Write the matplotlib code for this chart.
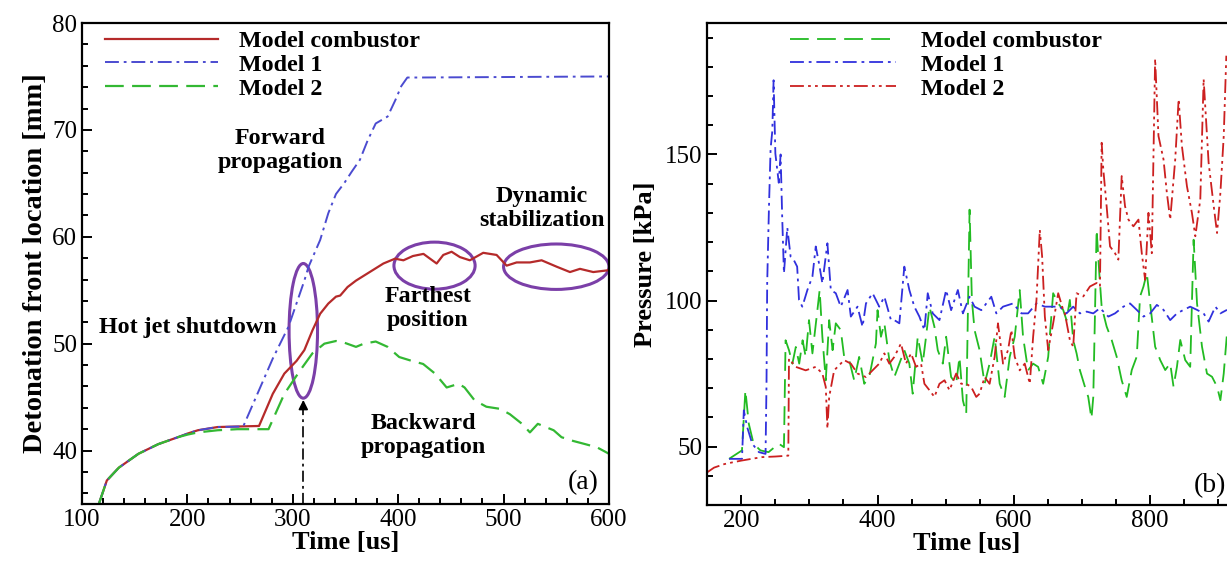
import matplotlib

matplotlib.use("Agg")
import matplotlib.pyplot as plt
from matplotlib.patches import Ellipse
from matplotlib.ticker import MultipleLocator

plt.rcParams["font.family"] = ["Liberation Serif", "DejaVu Serif"]
plt.rcParams["lines.scale_dashes"] = False

# ---------------- panel (a): detonation front location ----------------
t_comb = [116, 123.6, 135, 153.6, 172.4, 191, 200.5, 210, 228.7, 247.4,
          268, 281, 292, 303.7, 311, 318.7, 326, 333.7, 341, 345,
          352, 360, 373, 386, 397, 405, 414, 424, 436.5, 442.8,
          450.7, 458.6, 468, 480.7, 493.4, 502.9, 512.4, 525, 536.1, 550.4,
          563, 572.5, 585.1, 597.8, 600]
x_comb = [35, 37.2, 38.4, 39.7, 40.6, 41.25, 41.6, 41.9, 42.2, 42.25,
          42.3, 45.3, 47.2, 48.4, 49.4, 51.25, 52.8, 53.75, 54.4, 54.5,
          55.3, 55.9, 56.7, 57.5, 57.95, 57.8, 58.2, 58.4, 57.5, 58.3,
          58.6, 58.1, 57.8, 58.5, 58.3, 57.3, 57.6, 57.6, 57.8, 57.2,
          56.7, 57.0, 56.7, 56.85, 56.9]

t_m1 = [116, 123.6, 135, 153.6, 172.4, 191, 200.5, 210, 228.7, 253,
        266, 281, 296, 311, 315, 326, 333.7, 341, 348.7, 356,
        363.7, 371, 378.7, 390, 397.4, 403, 408.7, 420, 600]
x_m1 = [35, 37.2, 38.4, 39.7, 40.6, 41.25, 41.6, 41.9, 42.2, 42.25,
        45.2, 48.6, 51.6, 55.9, 57.2, 59.7, 62.2, 64, 65, 66.1,
        67.2, 69, 70.6, 71.25, 72.8, 74.1, 74.9, 74.9, 75.0]

t_m2 = [116, 123.6, 135, 153.6, 172.4, 191, 200.5, 210, 228.7, 247.4,
        277, 292, 307, 318.7, 330, 341, 348.7, 360, 367.4, 378.7,
        390, 401, 412.5, 423.7, 435, 446, 457.5, 463, 472.5, 483.7,
        496.8, 506, 517.5, 525, 532.5, 540, 547.5, 555, 566, 577.5,
        588.7, 600]
x_m2 = [35, 37.2, 38.4, 39.7, 40.6, 41.25, 41.5, 41.7, 41.9, 42.0,
        42.0, 45.3, 47.5, 49.1, 50.0, 50.25, 50.1, 49.7, 50.0, 50.2,
        49.7, 48.75, 48.4, 48.1, 47.2, 45.9, 46.25, 45.9, 44.7, 44.1,
        43.9, 43.4, 42.5, 41.7, 42.5, 42.2, 41.9, 41.25, 40.9, 40.6,
        40.3, 39.7]

# ---------------- panel (b): pressure ----------------
t_pc = [182, 201, 206, 211, 218, 228, 240, 255, 262.6, 265,
        270, 275, 280, 285, 290, 294.5, 299.4, 304.4, 311.7, 315,
        319, 324, 329, 334, 338.7, 346, 351, 358.4, 365.7, 373,
        380.5, 387.8, 397.6, 400, 405, 410, 417.3, 424.6, 432, 439.3,
        446.7, 451.6, 459, 466.3, 471.2, 476.2, 483.5, 488.4, 495.8, 500.7,
        508, 515.4, 520.3, 525.3, 530.2, 535.1, 538.5, 542.4, 549.8, 557.2,
        564.5, 571.9, 579.3, 586.6, 594, 601.4, 608.7, 613.6, 621, 628.4,
        635.7, 643.1, 650.5, 657.8, 665.2, 672.5, 677.4, 682.3, 687.2, 692.2,
        697, 704.4, 709.3, 714, 716.7, 719.2, 721.6, 725.5, 729, 736.3,
        743.7, 751, 758.4, 765.8, 773.2, 780.5, 785.4, 790.4, 795.3, 800.2,
        807.5, 815, 822.3, 829.6, 834.5, 839.5, 844.4, 851.7, 859, 864,
        869, 876.3, 883.6, 891, 898.4, 903.3, 908.2, 913]
p_pc = [45.8, 48.7, 69.3, 57.8, 51, 48.7, 48.1, 51, 49.8, 86.4,
        83, 78.4, 84.1, 78.4, 86.4, 80.7, 93.3, 81.9, 96.7, 103.6,
        87.6, 72.7, 93.3, 83, 92.2, 89.9, 80.7, 79.6, 72.7, 80.7,
        71.5, 73.8, 85.3, 96.7, 87.6, 92.2, 79.6, 73.8, 78.4, 83,
        78.4, 68.1, 87.6, 78.4, 87.6, 97.9, 91, 83, 78.4, 87.6,
        73.8, 71.5, 80.7, 65.8, 61.3, 131.1, 100.2, 89.9, 83, 71.5,
        78.4, 87.6, 71.5, 67, 80.7, 87.6, 103.6, 87.6, 76.1, 78.4,
        77.3, 71.5, 80.7, 102.5, 99, 96.8, 93.3, 100.2, 86.5, 81.9,
        76.2, 70.5, 67, 59.6, 67, 95.6, 124.3, 109.4, 97.9, 91.1,
        86.5, 80.8, 72.7, 67, 76.2, 80.8, 101.4, 104.8, 109.4, 99,
        84.2, 79.6, 76.2, 78.5, 70.5, 77.3, 86.5, 79.6, 77.3, 120.8,
        99, 84.2, 75, 73.9, 70.5, 65.9, 75, 88.8]

t_p1 = [182, 201, 203.7, 208.6, 216, 225.8, 235.6, 237, 238, 240.5,
        243, 245.5, 247.4, 250, 255, 257.7, 260, 262.6, 267.5, 272.4,
        277, 282, 284.7, 289.6, 297, 304.4, 309.3, 314, 319, 326.4,
        331.4, 338.7, 346, 356, 360.8, 370.6, 378, 383, 392.7, 402.5,
        410, 419.7, 424.6, 432, 439.3, 446.7, 454, 461.4, 468.8, 473.7,
        481, 490.9, 500.7, 508, 517.9, 525.3, 535, 542.4, 552.3, 567,
        574.4, 584.2, 598.9, 611.2, 621, 633.3, 645.6, 657.8, 667.6, 677.4,
        687.2, 697, 707, 716.7, 726.5, 738.8, 748.6, 760.9, 770.7, 780.5,
        790.4, 800.2, 810, 819.8, 829.6, 839.5, 849.3, 859, 869, 878.7,
        886, 896, 903.3, 913]
p_p1 = [45.8, 45.8, 62.4, 56.7, 51, 48.1, 47.5, 71.6, 105.9, 131,
        152, 158, 175.4, 150.3, 140.3, 150, 128.8, 109.3, 125, 115,
        113.9, 111.6, 100.2, 97.9, 103.6, 108.2, 118.5, 112.8, 105.9, 119.6,
        103.6, 102.5, 97.9, 103.6, 94.5, 97.9, 91, 99, 102.5, 97.9,
        101.3, 93.3, 93.3, 92.2, 111.6, 103.6, 97.9, 94.5, 89.9, 102.5,
        95.6, 93.3, 103.6, 96.7, 103.6, 95.6, 101.3, 97.9, 96.7, 101.3,
        95.6, 97.9, 99, 95.6, 95.6, 99, 97.9, 97.9, 97.9, 95.6,
        97.9, 95.6, 96.2, 95.6, 97.4, 94.5, 95.6, 97.9, 99, 96.8,
        94.5, 95.6, 98.5, 96.8, 93.3, 95.6, 96.8, 97.9, 96.8, 95.6,
        92.8, 97.9, 95.6, 96.8]

t_p2 = [150, 160, 175, 187, 200, 215, 230.7, 250, 269, 270,
        279.8, 294.5, 309.3, 319, 324, 326.4, 329, 336.3, 351, 360.8,
        370.6, 383, 392.7, 402.5, 410, 417.3, 424.6, 434.4, 441.8, 449.2,
        456.5, 463.9, 468.8, 476.2, 483.5, 490.9, 498.3, 505.6, 515.4, 522.8,
        530.2, 537.5, 544.9, 549.8, 557.2, 564.5, 571.9, 576.8, 584.2, 591.5,
        596.5, 601.4, 608.7, 616.1, 623.5, 628.4, 633.3, 638.2, 641.6, 645.6,
        650.5, 657.8, 665.2, 672.6, 675, 682.3, 687.2, 692.2, 702, 711.8,
        721.6, 726.5, 729, 731.4, 736.3, 741.3, 748.6, 753.5, 758.4, 763.3,
        768.3, 775.6, 783, 787.9, 792.8, 797.7, 802.6, 807.5, 812.4, 819.8,
        824.7, 829.6, 837, 842, 846.8, 854.2, 861.5, 866.5, 873.8, 878.7,
        886, 893.5, 898.4, 903.3, 908.2, 912]
p_p2 = [41.2, 42.8, 44.0, 44.6, 45.2, 45.8, 46.4, 46.6, 46.9, 80.1,
        77.3, 76.1, 77.3, 75, 70.4, 56.2, 67, 76.1, 79.6, 78.4,
        75, 73.8, 76.1, 78.4, 81.9, 78.4, 80.7, 85.3, 78.4, 81.9,
        77.3, 78.4, 71.5, 69.3, 67, 71.5, 72.7, 69.3, 75, 71.5,
        71.5, 70.4, 67, 68.1, 73.8, 71.5, 80.7, 92.2, 78.4, 83,
        89.9, 80.7, 76.1, 78.4, 71.5, 87.6, 100.2, 124.2, 115.1, 94.5,
        83, 92.2, 102.5, 96.7, 95.6, 86.5, 84.2, 102.5, 101.4, 104.8,
        106, 104.8, 154, 144.9, 132.3, 118.5, 116.2, 114, 142.6, 132.3,
        127.7, 125.4, 127.7, 116.2, 107.1, 130, 116.2, 182.7, 156.3, 148.3,
        136.9, 127.7, 148.3, 168.9, 152.9, 139.1, 130, 122, 134.6, 175.8,
        147.2, 132.3, 123.1, 136.9, 156.3, 183.8]

RED_A, BLUE_A, GREEN_A = "#b52a2a", "#4b4bd0", "#33b833"
RED_B, BLUE_B, GREEN_B = "#cc2020", "#3030dd", "#22bb22"
DASH = (0, (13.5, 6))
DASHDOT = (0, (10, 3.5, 2, 3.5))
DASHDOTDOT = (0, (10, 3, 2, 3, 2, 3))
PURPLE = "#7b3fa8"

fig = plt.figure(figsize=(12.27, 5.61), dpi=100)
ax1 = fig.add_axes([0.0668, 0.1016, 0.4295, 0.8574])
ax2 = fig.add_axes([0.5764, 0.0998, 0.4236, 0.8592])

for ax in (ax1, ax2):
    for s in ax.spines.values():
        s.set_linewidth(1.6)
    ax.tick_params(which="both", direction="in", top=False, right=False,
                   labelsize=18, width=1.4)
    ax.tick_params(which="major", length=7)
    ax.tick_params(which="minor", length=4)

# panel (a)
ax1.plot(t_comb, x_comb, color=RED_A, lw=1.6, label="Model combustor")
ax1.plot(t_m1, x_m1, color=BLUE_A, lw=1.4, ls=DASHDOT, label="Model 1")
ax1.plot(t_m2, x_m2, color=GREEN_A, lw=1.6, ls=DASH, label="Model 2")
ax1.set_xlim(100, 600)
ax1.set_ylim(35, 80)
ax1.xaxis.set_major_locator(MultipleLocator(100))
ax1.xaxis.set_minor_locator(MultipleLocator(20))
ax1.yaxis.set_major_locator(MultipleLocator(10))
ax1.yaxis.set_minor_locator(MultipleLocator(2))
ax1.set_xlabel("Time [us]", fontsize=19, fontweight="bold", labelpad=0)
ax1.set_ylabel("Detonation front location [mm]", fontsize=20.5,
               fontweight="bold", labelpad=3)

for (cx, cy, w, h) in [(310, 51.2, 27, 12.6), (434.5, 57.3, 77, 4.4),
                       (550, 57.2, 100, 4.25)]:
    ax1.add_patch(Ellipse((cx, cy), w, h, fill=False, ec=PURPLE, lw=2.2))

ax1.plot([310, 310], [35, 44.2], color="black", lw=1.2, ls=(0, (8, 3, 2, 3)))
ax1.annotate("", xy=(310, 45), xytext=(310, 43.6),
             arrowprops=dict(arrowstyle="-|>", color="black", lw=1.2,
                             mutation_scale=14))

txt = dict(fontsize=17.3, fontweight="bold", ha="center", va="center")
ax1.text(288, 68.1, "Forward\npropagation", **txt)
ax1.text(536, 62.65, "Dynamic\nstabilization", **txt)
ax1.text(200, 51.5, "Hot jet shutdown", **txt)
ax1.text(428, 53.3, "Farthest\nposition", **txt)
ax1.text(423.5, 41.4, "Backward\npropagation", **txt)
ax1.text(576, 37.0, "(a)", fontsize=20, ha="center", va="center")

ax1.legend(loc="upper left", bbox_to_anchor=(0.0436, 0.985), frameon=False,
           prop=dict(size=17.3, weight="bold"), handlelength=4.7,
           handletextpad=0.9, labelspacing=0.08, borderpad=0,
           borderaxespad=0)

# panel (b)
ax2.plot(t_pc, p_pc, color=GREEN_B, lw=1.3, ls=DASH, label="Model combustor")
ax2.plot(t_p1, p_p1, color=BLUE_B, lw=1.3, ls=DASHDOT, label="Model 1")
ax2.plot(t_p2, p_p2, color=RED_B, lw=1.3, ls=DASHDOTDOT, label="Model 2")
ax2.set_xlim(150, 913)
ax2.set_ylim(30, 195)
ax2.spines["right"].set_visible(False)
ax2.xaxis.set_major_locator(MultipleLocator(200))
ax2.xaxis.set_minor_locator(MultipleLocator(50))
ax2.yaxis.set_major_locator(MultipleLocator(50))
ax2.yaxis.set_minor_locator(MultipleLocator(10))
ax2.set_xlabel("Time [us]", fontsize=19, fontweight="bold", labelpad=0)
ax2.set_ylabel("Pressure [kPa]", fontsize=19, fontweight="bold", labelpad=6)
ax2.text(888, 36.6, "(b)", fontsize=20, ha="center", va="center")

ax2.legend(loc="upper left", bbox_to_anchor=(0.159, 0.985), frameon=False,
           prop=dict(size=17.3, weight="bold"), handlelength=4.4,
           handletextpad=1.05, labelspacing=0.08, borderpad=0,
           borderaxespad=0)

fig.savefig("out.png", dpi=100)
